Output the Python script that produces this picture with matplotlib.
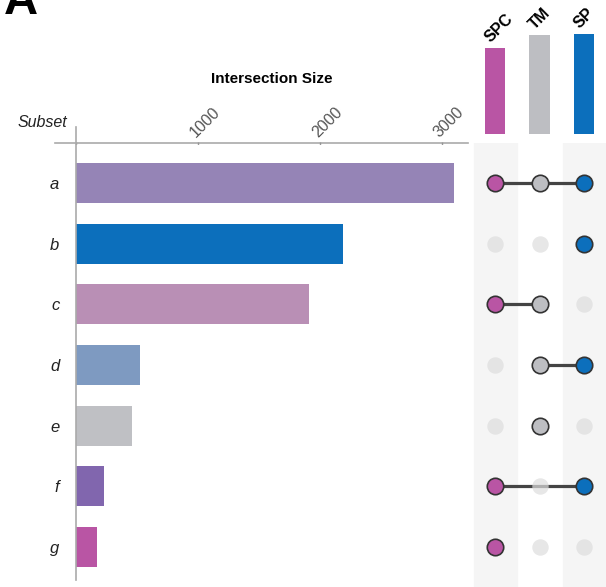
import matplotlib.pyplot as plt
from matplotlib.lines import Line2D

plt.rcParams['font.family'] = ['Liberation Sans', 'DejaVu Sans']

# data
subsets = ["a", "b", "c", "d", "e", "f", "g"]
sizes = [3100, 2190, 1910, 525, 460, 230, 172]
bar_colors = ["#9584b6", "#0c6fbc", "#b98fb5", "#7e9ac1", "#bfc0c4", "#8166ae", "#b955a4"]

sets = ["SPC", "TM", "SP"]
set_sizes = [5200, 5990, 6050]
set_colors = ["#b955a4", "#bdbec2", "#0c6fbc"]

# membership per subset (SPC, TM, SP)
membership = [
    [1, 1, 1],
    [0, 0, 1],
    [1, 1, 0],
    [0, 1, 1],
    [0, 1, 0],
    [1, 0, 1],
    [1, 0, 0],
]

W, H = 606, 587
fig = plt.figure(figsize=(W / 100, H / 100), dpi=100)


def box(x0, y0, x1, y1):
    return [x0 / W, 1 - y1 / H, (x1 - x0) / W, (y1 - y0) / H]


row0, step = 183, 60.67

# intersection size bars
ax = fig.add_axes(box(76, 143, 468, 580))
ax.barh(range(len(subsets)), sizes, height=0.66, color=bar_colors)
ax.set_xlim(0, 3213)
ax.set_ylim((580 - row0) / step, (143 - row0) / step)
for s in ax.spines.values():
    s.set_visible(False)
ax.xaxis.tick_top()
ax.set_xticks([0, 1000, 2000, 3000])
ax.set_xticklabels(["", "1000", "2000", "3000"])
ax.tick_params(axis="x", length=2, width=1, direction="inout", color="#333333",
               labelsize=11.5, labelcolor="#555555", pad=1)
for lab in ax.get_xticklabels():
    lab.set_rotation(45)
    lab.set_ha("left")
    lab.set_rotation_mode("anchor")
ax.set_yticks(range(len(subsets)))
ax.set_yticklabels(subsets, fontstyle="italic", fontsize=12, color="#222222")
ax.tick_params(axis="y", length=0, pad=12)
ax.set_xlabel("Intersection Size", fontweight="bold", fontsize=11, labelpad=0)
ax.xaxis.set_label_position("top")
ax.xaxis.set_label_coords(0.5, 1 + (143 - 86) / (580 - 143))
ax.xaxis.label.set_va("bottom")

fig.add_artist(Line2D([55 / W, 468 / W], [1 - 143 / H, 1 - 143 / H], color="#aaaaaa", lw=1.2))
fig.add_artist(Line2D([76 / W, 76 / W], [1 - 127 / H, 1 - 580 / H], color="#aaaaaa", lw=1.2))
fig.text(18 / W, 1 - 127 / H, "Subset", fontstyle="italic", fontsize=11.5, color="#222222", va="baseline")
fig.text(4 / W, 1 - 14 / H, "A", fontweight="bold", fontsize=34, va="baseline")

# matrix
axm = fig.add_axes(box(460, 143, 606, 587))
axm.set_xlim((460 - 495) / 44.5, (606 - 495) / 44.5)
axm.set_ylim((587 - row0) / step, (143 - row0) / step)
axm.axis("off")
for c in [0, 2]:
    axm.axvspan(c - 0.47, c + 0.5, color="#f5f5f5", zorder=0)
for i, row in enumerate(membership):
    on = [j for j in range(3) if row[j]]
    if len(on) > 1:
        axm.plot([min(on), max(on)], [i, i], color="#444444", lw=2.3, zorder=1)
    for j in range(3):
        if row[j]:
            axm.scatter(j, i, s=140, color=set_colors[j], edgecolor="#333333", linewidth=1.2, zorder=3)
        else:
            axm.scatter(j, i, s=140, color="#dddddd", alpha=0.7, linewidth=0, zorder=2)

# set size bars
axs = fig.add_axes(box(460, 34, 606, 134))
axs.set_xlim(axm.get_xlim())
axs.set_ylim(0, 6050)
axs.axis("off")
axs.bar(range(3), set_sizes, width=0.47, color=set_colors)
for j in range(3):
    axs.annotate(sets[j], (j, set_sizes[j]), xytext=(-2, 2), textcoords="offset points",
                 rotation=45, rotation_mode="anchor", ha="left", va="bottom",
                 fontweight="bold", fontsize=11.5, annotation_clip=False)

plt.savefig("out.png", dpi=100)
